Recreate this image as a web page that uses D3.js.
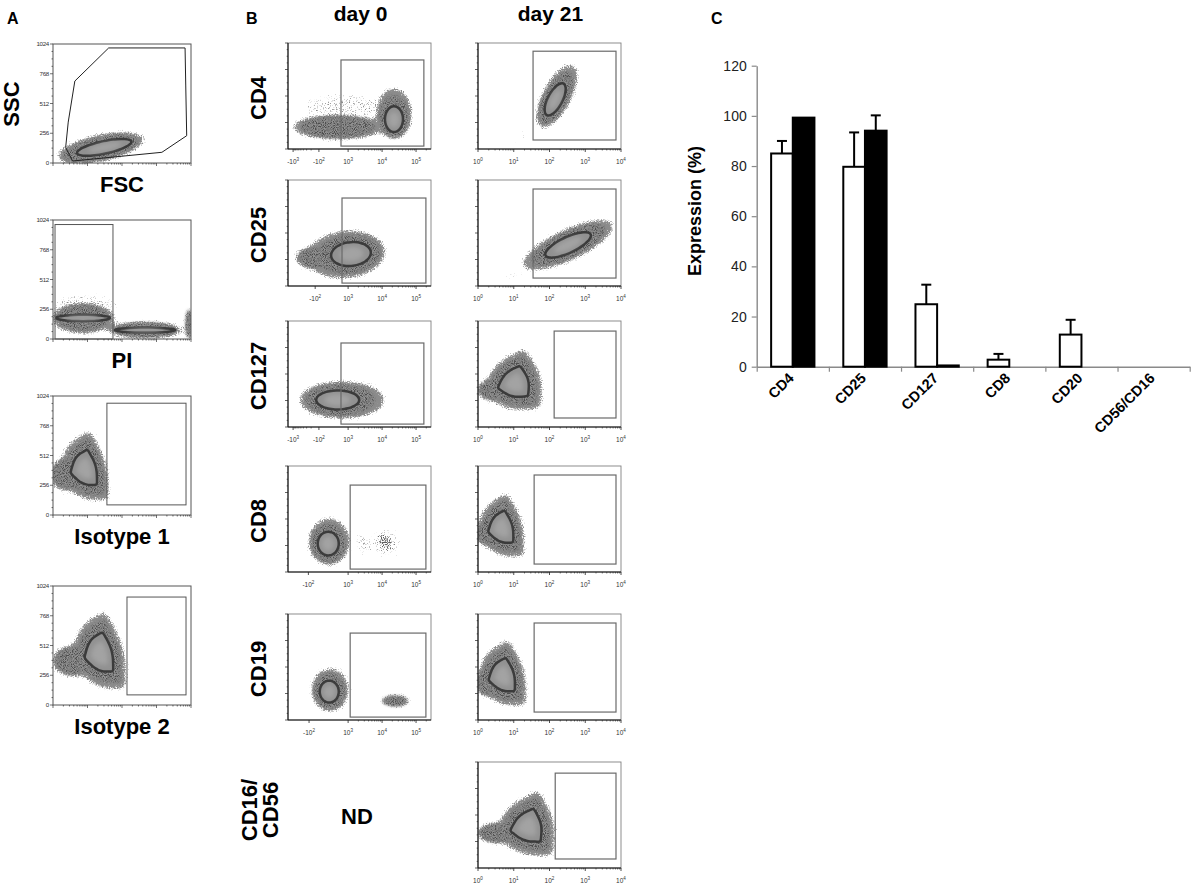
<!DOCTYPE html>
<html>
<head>
<meta charset="utf-8">
<script src="https://cdnjs.cloudflare.com/ajax/libs/d3/7.8.5/d3.min.js"></script>
<style>
  body { margin: 0; background: #fff; }
  text { font-family: "Liberation Sans", Arial, sans-serif; }
</style>
</head>
<body>
<script>
// ---- panel C: expression bars ----
var markers   = ["CD4", "CD25", "CD127", "CD8", "CD20", "CD56/CD16"];
var day0Pct   = [85.0, 79.7, 24.9, 2.8, 12.8, 0];
var day0Sd    = [5.0, 13.7, 7.8, 2.3, 5.9, 0];
var day21Pct  = [99.3, 94.1, 0.5, 0, 0, 0];
var day21Sd   = [0.2, 6.1, 0, 0, 0, 0];
var pctTicks  = [0, 20, 40, 60, 80, 100, 120];

// ---- panel A: gating plots (channel units 0-1024) ----
var aNames  = ["FSC", "PI", "Isotype 1", "Isotype 2"];
var aYTicks = [0, 256, 512, 768, 1024];
var aGates  = [
  [[145,17],[94,134],[113,352],[162,705],[413,990],[980,990],[985,671],[992,235],[808,92]],
  [15, 445, 985, 0],
  [400, 987, 962, 87],
  [549, 987, 929, 87]
];
// populations: centre, spread, tilt, shape, level (0 sparse, 0.5 sparse but denser, 1 cloud, 2 dense core)
var aPops = [
  [{x:386, y:136, rx:334, ry:119, rot:-12, egg:0.1, eggAng:180, lvl:2, ring:[0.62,0.45]},
   {x:150, y:70,  rx:90,  ry:60,  lvl:1}],
  [{x:223, y:181, rx:237, ry:138, lvl:2, ring:[0.85,0.2]},
   {x:683, y:77,  rx:282, ry:77,  lvl:2, ring:[0.8,0.28]},
   {x:1010,y:130, rx:30,  ry:150, lvl:1},
   {x:237, y:292, rx:260, ry:110, lvl:0}],
  [{x:237, y:395, rx:185, ry:300, rot:-15, tri:0.45, lvl:2},
   {x:110, y:350, rx:140, ry:150, lvl:1}],
  [{x:349, y:440, rx:200, ry:335, rot:-15, tri:0.45, lvl:2},
   {x:150, y:380, rx:160, ry:140, lvl:1}]
];

// ---- panel B: marker plots (display decades) ----
var bRows       = [["CD4"], ["CD25"], ["CD127"], ["CD8"], ["CD19"], ["CD16/", "CD56"]];
var bDays       = ["day 0", "day 21"];
var day0Ticks   = [[-1e3,-1e2,1e3,1e4,1e5], [-1e2,1e3,1e4,1e5], [-1e3,-1e2,1e3,1e4,1e5],
                   [-1e2,1e3,1e4,1e5], [-1e2,1e3,1e4,1e5], null];
var day0NegGap  = [0.86, 0.97, 0.86, 1.17, 1.15, null];
var day21Ticks  = [1, 10, 100, 1000, 10000];
var day0Gates   = [[2.79,5.23,3.36,0.11], [2.82,5.29,3.32,0.11], [2.79,5.23,3.17,0.11],
                   [3.06,5.29,3.28,0.11], [3.06,5.29,3.28,0.11], null];
var day21Gates  = [[1.54,3.86,3.69,0.34], [1.54,3.86,3.66,0.3], [2.13,3.86,3.62,0.34],
                   [1.57,3.86,3.66,0.3], [1.57,3.86,3.66,0.3], [2.16,3.86,3.58,0.34]];
var day0Pops = [
  [{x:4.35, y:1.09, rx:0.53, ry:0.98, egg:0.25, eggAng:-90, lvl:2},
   {x:2.70, y:0.83, rx:1.35, ry:0.49, lvl:1},
   {x:1.94, y:0.87, rx:0.41, ry:0.26, lvl:1},
   {x:2.91, y:1.60, rx:1.32, ry:0.55, lvl:0}],
  [{x:3.11, y:1.21, rx:1.18, ry:0.9, rot:-6, egg:0.15, eggAng:180, lvl:2},
   {x:2.02, y:1.06, rx:0.59, ry:0.45, lvl:1}],
  [{x:2.67, y:1.02, rx:1.27, ry:0.72, egg:0.12, eggAng:0, lvl:2}],
  [{x:2.41, y:1.06, rx:0.62, ry:0.9, egg:0.1, eggAng:-60, lvl:2},
   {x:4.09, y:1.13, rx:0.5, ry:0.62, lvl:0.5},
   {x:3.45, y:1.05, rx:0.35, ry:0.45, lvl:0}],
  [{x:2.44, y:1.06, rx:0.56, ry:0.83, egg:0.1, eggAng:-60, lvl:2},
   {x:4.38, y:0.72, rx:0.44, ry:0.23, lvl:1}],
  null
];
var day21Pops = [
  [{x:2.15, y:1.85, rx:1.0, ry:0.55, rot:-62, egg:0.12, eggAng:0, lvl:2},
   {x:1.23, y:0.49, rx:0.42, ry:0.15, rot:-20, lvl:0}],
  [{x:2.52, y:1.55, rx:1.4, ry:0.6, rot:-25, lvl:2},
   {x:1.04, y:0.45, rx:0.5, ry:0.19, rot:-20, lvl:0}],
  [{x:1.04, y:1.65, rx:0.84, ry:1.13, tri:0.45, rot:-15, lvl:2},
   {x:0.45, y:1.4, rx:0.5, ry:0.45, lvl:1}],
  [{x:0.67, y:1.65, rx:0.67, ry:1.2, tri:0.45, rot:-15, lvl:2},
   {x:0.3, y:1.45, rx:0.4, ry:0.5, lvl:1}],
  [{x:0.7, y:1.65, rx:0.7, ry:1.24, tri:0.45, rot:-15, lvl:2},
   {x:0.3, y:1.4, rx:0.4, ry:0.55, lvl:1}],
  [{x:1.4, y:1.55, rx:0.84, ry:1.2, tri:0.5, rot:-12, lvl:2},
   {x:0.55, y:1.32, rx:0.6, ry:0.41, lvl:1}]
];

var W = 1192, H = 889;
var svg = d3.select("body").append("svg").attr("width", W).attr("height", H);
svg.append("rect").attr("width", W).attr("height", H).attr("fill", "#fff");
var defs = svg.append("defs");

// stippled halo filters
function stipple(id, k2, k3, k4, color, blur) {
  var f = defs.append("filter").attr("id", id)
    .attr("x", "-40%").attr("y", "-40%").attr("width", "180%").attr("height", "180%");
  f.append("feGaussianBlur").attr("in", "SourceAlpha").attr("stdDeviation", blur).attr("result", "b");
  f.append("feTurbulence").attr("type", "fractalNoise").attr("baseFrequency", 0.85)
    .attr("numOctaves", 2).attr("seed", 4).attr("result", "n");
  f.append("feComposite").attr("in", "b").attr("in2", "n").attr("operator", "arithmetic")
    .attr("k1", 0).attr("k2", k2).attr("k3", k3).attr("k4", k4).attr("result", "m");
  f.append("feFlood").attr("flood-color", color).attr("result", "c");
  f.append("feComposite").attr("in", "c").attr("in2", "m").attr("operator", "in");
}
stipple("stip", 3.5, -3.5, 0.15, "#8c8c8c", 3);
stipple("stipSparse", 1.8, -4.2, 0.1, "#8a8a8a", 4);
stipple("stipMid", 2.6, -4.0, 0.1, "#606060", 4);

// grain texture overlay
var nf = defs.append("filter").attr("id", "nz")
  .attr("x", "-30%").attr("y", "-30%").attr("width", "160%").attr("height", "160%");
nf.append("feGaussianBlur").attr("in", "SourceAlpha").attr("stdDeviation", 1.6).attr("result", "b");
nf.append("feTurbulence").attr("type", "fractalNoise").attr("baseFrequency", 1.1)
  .attr("numOctaves", 1).attr("seed", 9).attr("result", "n");
nf.append("feColorMatrix").attr("in", "n").attr("type", "matrix")
  .attr("values", "3 0 0 0 -1.1  3 0 0 0 -1.1  3 0 0 0 -1.1  0 0 0 0 1").attr("result", "g");
nf.append("feComposite").attr("in", "g").attr("in2", "b").attr("operator", "in");

function blurF(id, sd) {
  defs.append("filter").attr("id", id)
    .attr("x", "-30%").attr("y", "-30%").attr("width", "160%").attr("height", "160%")
    .append("feGaussianBlur").attr("stdDeviation", sd);
}
blurF("b06", 0.7);
blurF("b16", 1.6);
blurF("b2", 2.2);

var clipN = 0;

function popPath(p, xs, ys, s, fx, fy, eggK) {
  var kx = Math.abs(xs(1) - xs(0)), ky = Math.abs(ys(1) - ys(0));
  var cx = xs(p.x), cy = ys(p.y);
  var a = p.rx * kx * s * fx, b = p.ry * ky * s * fy;
  var rot = (p.rot || 0) * Math.PI / 180;
  var m = p.tri || 0, sec = 2 * Math.PI / 3;
  var egg = (p.egg || 0) * eggK, eggAng = (p.eggAng || 0) * Math.PI / 180;
  var pts = d3.range(36).map(function(i) {
    var th = i / 36 * 2 * Math.PI;
    var u = (((th - Math.PI) % sec) + sec) % sec;
    var rt = 0.5 / Math.cos(u - Math.PI / 3);
    var r = (1 - m + m * 1.5 * rt) + egg * Math.cos(th - eggAng);
    var lx = a * r * Math.cos(th), ly = b * r * Math.sin(th);
    return [cx + lx * Math.cos(rot) - ly * Math.sin(rot), cy + lx * Math.sin(rot) + ly * Math.cos(rot)];
  });
  return d3.line().curve(d3.curveBasisClosed)(pts);
}

function drawPops(x0, y0, w, h, xs, ys, pops) {
  var id = "clip" + (clipN++);
  defs.append("clipPath").attr("id", id).append("rect")
    .attr("x", x0).attr("y", y0).attr("width", w).attr("height", h);
  var g = svg.append("g").attr("clip-path", "url(#" + id + ")");
  var dense = pops.filter(function(p) { return p.lvl >= 1; });
  var sparse = pops.filter(function(p) { return p.lvl === 0; });
  var mid = pops.filter(function(p) { return p.lvl === 0.5; });
  var core = pops.filter(function(p) { return p.lvl === 2; });
  var full = function(p) { return popPath(p, xs, ys, 1, 1, 1, 1); };
  var cloud = function(p) { return popPath(p, xs, ys, 0.8, 1, 1, 0.7); };

  g.append("g").attr("filter", "url(#stipSparse)").selectAll("path").data(sparse).enter()
    .append("path").attr("d", full).attr("fill", "#000");
  g.append("g").attr("filter", "url(#stipSparse)").selectAll("path").data(mid).enter()
    .append("path").attr("d", full).attr("fill", "#000");
  g.append("g").attr("filter", "url(#stipMid)").selectAll("path").data(mid).enter()
    .append("path").attr("d", function(p) { return popPath(p, xs, ys, 0.6, 1, 1, 1); }).attr("fill", "#000");
  g.append("g").attr("filter", "url(#stip)").selectAll("path").data(dense).enter()
    .append("path").attr("d", full).attr("fill", "#000");
  g.append("g").attr("filter", "url(#b16)").selectAll("path").data(dense).enter()
    .append("path").attr("d", cloud).attr("fill", "#6d6d6d");
  g.append("g").attr("filter", "url(#nz)").attr("opacity", 0.28).selectAll("path").data(dense).enter()
    .append("path").attr("d", cloud).attr("fill", "#000");
  g.append("g").attr("filter", "url(#b06)").selectAll("path").data(core).enter()
    .append("path").attr("d", function(p) {
      var r = p.ring || [0.5, 0.5];
      return popPath(p, xs, ys, 1, r[0], r[1], 0.3);
    })
    .attr("fill", "#919191").attr("stroke", "#3a3a3a").attr("stroke-width", 2.5);
  g.append("g").attr("filter", "url(#b2)").selectAll("path").data(core).enter()
    .append("path").attr("d", function(p) {
      var r = p.ring || [0.5, 0.5];
      return popPath(p, xs, ys, 0.6, r[0], r[1], 0.2);
    })
    .attr("fill", "#a3a3a3");
}

function gateRect(xs, ys, gt, color, sw) {
  svg.append("rect")
    .attr("x", xs(gt[0])).attr("y", ys(gt[2]))
    .attr("width", xs(gt[1]) - xs(gt[0])).attr("height", ys(gt[3]) - ys(gt[2]))
    .attr("fill", "none").attr("stroke", color).attr("stroke-width", sw);
}

function supText(sel, v, fs) {
  var e = Math.round(Math.log10(Math.abs(v)));
  sel.append("tspan").text((v < 0 ? "-" : "") + "10");
  sel.append("tspan").attr("dy", -fs * 0.45).attr("font-size", fs * 0.7).text(e);
}

// ---------- panel A ----------
var aTops = [44, 220, 396, 586], aH = 119, aX0 = 53, aX1 = 191;
aNames.forEach(function(name, i) {
  var top = aTops[i], bot = top + aH;
  var xs = d3.scaleLinear().domain([0, 1024]).range([aX0, aX1]);
  var ys = d3.scaleLinear().domain([0, 1024]).range([bot, top]);
  drawPops(aX0, top, aX1 - aX0, aH, xs, ys, aPops[i]);

  var gt = aGates[i];
  if (Array.isArray(gt[0])) {
    svg.append("path")
      .attr("d", d3.line().curve(d3.curveLinearClosed)(gt.map(function(q) { return [xs(q[0]), ys(q[1])]; })))
      .attr("fill", "none").attr("stroke", "#222").attr("stroke-width", 1);
  } else {
    gateRect(xs, ys, gt, "#555", 1);
  }
  svg.append("rect").attr("x", aX0).attr("y", top).attr("width", aX1 - aX0).attr("height", aH)
    .attr("fill", "none").attr("stroke", "#555").attr("stroke-width", 1);

  // y axis
  var minorY = d3.range(0, 1025, 64);
  svg.append("g").selectAll("line").data(minorY).enter().append("line")
    .attr("x1", aX0).attr("x2", function(v) { return v % 256 === 0 ? aX0 - 3 : aX0 - 1.5; })
    .attr("y1", ys).attr("y2", ys).attr("stroke", "#333").attr("stroke-width", 0.7);
  svg.append("g").selectAll("text").data(aYTicks).enter().append("text")
    .attr("x", aX0 - 4).attr("y", ys).attr("dy", "0.35em").attr("text-anchor", "end")
    .attr("font-size", 6.2).attr("letter-spacing", -0.3).attr("fill", "#333").text(function(v) { return v; });
  // x axis (log decades, unlabeled)
  var minorX = [];
  for (var d = 0; d < 4; d++) for (var k = 1; k < 10; k++) minorX.push({v: (d + Math.log10(k)) * 256, major: k === 1});
  minorX.push({v: 1024, major: true});
  svg.append("g").selectAll("line").data(minorX).enter().append("line")
    .attr("x1", function(t) { return xs(t.v); }).attr("x2", function(t) { return xs(t.v); })
    .attr("y1", bot).attr("y2", function(t) { return t.major ? bot + 3 : bot + 1.5; })
    .attr("stroke", "#333").attr("stroke-width", 0.7);

  svg.append("text").attr("x", 122).attr("y", bot + 29).attr("text-anchor", "middle")
    .attr("font-size", 22).attr("font-weight", "bold").text(name);
});
svg.append("text").attr("transform", "translate(19,104) rotate(-90)").attr("text-anchor", "middle")
  .attr("font-size", 22).attr("font-weight", "bold").text("SSC");
svg.append("text").attr("x", 7).attr("y", 24).attr("font-size", 16).attr("font-weight", "bold").text("A");

// ---------- panel B ----------
var bTops = [43, 180, 321, 466, 614, 762], bH = 106;
var colX = [[288, 431], [478, 621]];

function biex(v, neg) {
  if (v >= 1000) return Math.log10(v);
  if (v >= -100) return 3 - neg * (1000 - v) / 1100;
  return 3 - neg - 0.76 * (Math.log10(-v) - 2);
}

function bFrame(x0, x1, top, xs, ys, ticks) {
  var bot = top + bH;
  svg.append("rect").attr("x", x0).attr("y", top).attr("width", x1 - x0).attr("height", bH)
    .attr("fill", "none").attr("stroke", "#808080").attr("stroke-width", 0.9);
  svg.append("line").attr("x1", x0).attr("x2", x0).attr("y1", top).attr("y2", bot)
    .attr("stroke", "#111").attr("stroke-width", 1.1);
  svg.append("line").attr("x1", x0).attr("x2", x1).attr("y1", bot).attr("y2", bot)
    .attr("stroke", "#111").attr("stroke-width", 1.1);
  svg.append("g").selectAll("line").data(d3.range(0, 4.01, 0.25)).enter().append("line")
    .attr("x1", x0).attr("x2", function(v) { return v % 1 === 0 ? x0 - 3 : x0 - 1.3; })
    .attr("y1", ys).attr("y2", ys).attr("stroke", "#222").attr("stroke-width", 0.7);
  svg.append("g").selectAll("line").data(ticks.minor).enter().append("line")
    .attr("x1", xs).attr("x2", xs).attr("y1", bot).attr("y2", bot + 1.5)
    .attr("stroke", "#222").attr("stroke-width", 0.6);
  svg.append("g").selectAll("line").data(ticks.major).enter().append("line")
    .attr("x1", function(t) { return xs(t.d); }).attr("x2", function(t) { return xs(t.d); })
    .attr("y1", bot).attr("y2", bot + 3).attr("stroke", "#222").attr("stroke-width", 0.8);
  svg.append("g").selectAll("text").data(ticks.major).enter().append("text")
    .attr("x", function(t) { return xs(t.d); }).attr("y", bot + 15).attr("text-anchor", "middle")
    .attr("font-size", 6.5).attr("fill", "#333")
    .each(function(t) { supText(d3.select(this), t.v, 6.5); });
}

bRows.forEach(function(lines, r) {
  var top = bTops[r], bot = top + bH;
  var ys = d3.scaleLinear().domain([0, 4]).range([bot, top]);

  // day 0
  if (day0Pops[r]) {
    var neg = day0NegGap[r];
    var xs0 = d3.scaleLinear().domain([1.23, 5.44]).range(colX[0]);
    drawPops(colX[0][0], top, colX[0][1] - colX[0][0], bH, xs0, ys, day0Pops[r]);
    gateRect(xs0, ys, day0Gates[r], "#6a6a6a", 1.2);
    var minor0 = [];
    for (var e = 3; e <= 5; e++) for (var k = 2; k < 10; k++) {
      var dv = Math.log10(k * Math.pow(10, e));
      if (dv < 5.44) minor0.push(dv);
    }
    if (day0Ticks[r][0] === -1e3) for (var k2 = 2; k2 < 10; k2++) minor0.push(biex(-k2 * 100, neg));
    bFrame(colX[0][0], colX[0][1], top, xs0, ys, {
      major: day0Ticks[r].map(function(v) { return {v: v, d: biex(v, neg)}; }),
      minor: minor0
    });
  } else {
    svg.append("text").attr("x", 357).attr("y", 824).attr("text-anchor", "middle")
      .attr("font-size", 22).attr("font-weight", "bold").text("ND");
  }

  // day 21
  var xs1 = d3.scaleLinear().domain([0, 4]).range(colX[1]);
  drawPops(colX[1][0], top, colX[1][1] - colX[1][0], bH, xs1, ys, day21Pops[r]);
  gateRect(xs1, ys, day21Gates[r], "#6a6a6a", 1.2);
  var minor1 = [];
  for (var e1 = 0; e1 < 4; e1++) for (var k1 = 2; k1 < 10; k1++) minor1.push(e1 + Math.log10(k1));
  bFrame(colX[1][0], colX[1][1], top, xs1, ys, {
    major: day21Ticks.map(function(v) { return {v: v, d: Math.log10(v)}; }),
    minor: minor1
  });

  // row label
  var cyL = r === 5 ? 810 : top + bH / 2 + 2;
  lines.forEach(function(t, j) {
    var bx = lines.length === 1 ? 266 : 257 + j * 21;
    svg.append("text").attr("transform", "translate(" + bx + "," + cyL + ") rotate(-90)")
      .attr("text-anchor", "middle").attr("font-size", 22).attr("font-weight", "bold").text(t);
  });
});
bDays.forEach(function(t, i) {
  svg.append("text").attr("x", (colX[i][0] + colX[i][1]) / 2 + 1).attr("y", 21)
    .attr("text-anchor", "middle").attr("font-size", 21).attr("font-weight", "bold").text(t);
});
svg.append("text").attr("x", 246).attr("y", 24).attr("font-size", 16).attr("font-weight", "bold").text("B");

// ---------- panel C ----------
var cY = d3.scaleLinear().domain([0, 120]).range([366.7, 65.7]);
var cX = d3.scaleBand().domain(markers).range([756.7, 1189.7]);
var bw = cX.bandwidth() * 0.3;

var yAx = svg.append("g").attr("transform", "translate(756.7,0)")
  .call(d3.axisLeft(cY).tickValues(pctTicks).tickSize(5).tickSizeOuter(0).tickPadding(5));
yAx.select(".domain").attr("stroke", "#8a8a8a").attr("stroke-width", 1.4);
yAx.selectAll(".tick line").attr("stroke", "#8a8a8a").attr("stroke-width", 1.2);
yAx.selectAll(".tick text").attr("font-size", 14).attr("fill", "#222")
  .attr("font-family", "'Liberation Sans', Arial, sans-serif");

var bounds = d3.scaleLinear().domain([0, markers.length]).range(cX.range());
var xAx = svg.append("g").attr("transform", "translate(0,366.7)")
  .call(d3.axisBottom(bounds).tickValues(d3.range(markers.length + 1)).tickSize(5).tickSizeOuter(0).tickFormat(""));
xAx.select(".domain").attr("stroke", "#8a8a8a").attr("stroke-width", 1.4);
xAx.selectAll(".tick line").attr("stroke", "#8a8a8a").attr("stroke-width", 1.2);

var series = [
  {vals: day0Pct, sd: day0Sd, fill: "#fff", off: 0.2},
  {vals: day21Pct, sd: day21Sd, fill: "#000", off: 0.5}
];
series.forEach(function(s) {
  var items = markers.map(function(m, i) { return {m: m, v: s.vals[i], e: s.sd[i]}; })
    .filter(function(d) { return d.v > 0; });
  var g = svg.append("g");
  g.selectAll("rect").data(items).enter().append("rect")
    .attr("x", function(d) { return cX(d.m) + cX.bandwidth() * s.off; })
    .attr("y", function(d) { return cY(d.v); })
    .attr("width", bw)
    .attr("height", function(d) { return cY(0) - cY(d.v); })
    .attr("fill", s.fill).attr("stroke", "#000").attr("stroke-width", 2);
  var errs = items.filter(function(d) { return d.e > 0.5; });
  g.selectAll("line.v").data(errs).enter().append("line")
    .attr("x1", function(d) { return cX(d.m) + cX.bandwidth() * s.off + bw / 2; })
    .attr("x2", function(d) { return cX(d.m) + cX.bandwidth() * s.off + bw / 2; })
    .attr("y1", function(d) { return cY(d.v); })
    .attr("y2", function(d) { return cY(d.v + d.e); })
    .attr("stroke", "#000").attr("stroke-width", 2);
  g.selectAll("line.c").data(errs).enter().append("line")
    .attr("x1", function(d) { return cX(d.m) + cX.bandwidth() * s.off + bw / 2 - 5; })
    .attr("x2", function(d) { return cX(d.m) + cX.bandwidth() * s.off + bw / 2 + 5; })
    .attr("y1", function(d) { return cY(d.v + d.e); })
    .attr("y2", function(d) { return cY(d.v + d.e); })
    .attr("stroke", "#000").attr("stroke-width", 2);
});

svg.append("g").selectAll("text").data(markers).enter().append("text")
  .attr("transform", function(m) { return "translate(" + (cX(m) + cX.bandwidth() / 2 + 2) + ",379) rotate(-45)"; })
  .attr("text-anchor", "end").attr("font-size", 14.5).attr("font-weight", "bold").text(function(m) { return m; });

svg.append("text").attr("transform", "translate(701,211) rotate(-90)").attr("text-anchor", "middle")
  .attr("font-size", 18).attr("font-weight", "bold").text("Expression (%)");
svg.append("text").attr("x", 711).attr("y", 24).attr("font-size", 16).attr("font-weight", "bold").text("C");
</script>
</body>
</html>
